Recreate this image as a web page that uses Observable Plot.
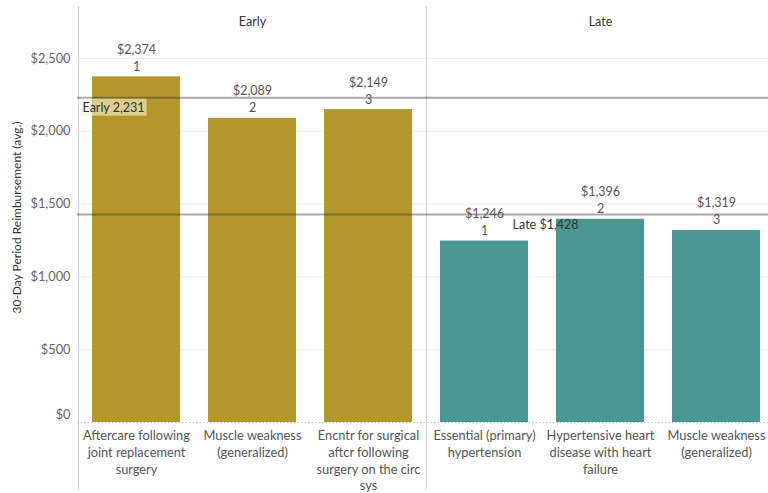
<!DOCTYPE html>
<html>
<head>
<meta charset="utf-8">
<script src="https://cdn.jsdelivr.net/npm/d3@7"></script>
<script src="https://cdn.jsdelivr.net/npm/@observablehq/plot@0.6"></script>
<style>
  html, body { margin: 0; padding: 0; background: #fff; }
  #chart svg { display: block; font-family: Lato, "Open Sans", sans-serif; }
</style>
</head>
<body>
<div id="chart"></div>
<script>
// ---- data ----
const phases = ["Early", "Early", "Early", "Late", "Late", "Late"];
const diagnoses = [
  "Aftercare following joint replacement surgery",
  "Muscle weakness (generalized)",
  "Encntr for surgical aftcr following surgery on the circ sys",
  "Essential (primary) hypertension",
  "Hypertensive heart disease with heart failure",
  "Muscle weakness (generalized)"
];
const tickLabels = [
  "Aftercare following\njoint replacement\nsurgery",
  "Muscle weakness\n(generalized)",
  "Encntr for surgical\naftcr following\nsurgery on the circ\nsys",
  "Essential (primary)\nhypertension",
  "Hypertensive heart\ndisease with heart\nfailure",
  "Muscle weakness\n(generalized)"
];
const reimbursement = [2374, 2089, 2149, 1246, 1396, 1319];
const ranks = [1, 2, 3, 1, 2, 3];
const refPhases = ["Early", "Late"];
const refValues = [2231, 1428];
const refLabels = ["Early 2,231", "Late $1,428"];
const yTicks = [0, 500, 1000, 1500, 2000, 2500];
const yTitle = "30-Day Period Reimbursement (avg.)";

// ---- build ----
const keys = phases.map((p, i) => p + "|" + diagnoses[i]);
const data = keys.map((k, i) => ({
  key: k, phase: phases[i], diagnosis: diagnoses[i], tick: tickLabels[i],
  value: reimbursement[i], rank: ranks[i]
}));
const fmt = d3.format("$,");
const X_RANGE = [77, 775];
const PI = 0.244, PO = 0.12;
const xs = d3.scaleBand(keys, X_RANGE).paddingInner(PI).paddingOuter(PO);
const leftDx = X_RANGE[0] - (xs(keys[0]) + xs.bandwidth() / 2);
const divDx = -xs.step() / 2;

const headers = refPhases.map(p => {
  const idx = phases.map((q, i) => q === p ? i : -1).filter(i => i >= 0);
  return { phase: p, key: keys[idx[Math.floor(idx.length / 2)]] };
});
const refs = refPhases.map((p, i) => ({ phase: p, value: refValues[i], label: refLabels[i] }));

const gold = "#B4972C", teal = "#4A9792";

const plot = Plot.plot({
  width: 768,
  height: 493,
  marginLeft: 77,
  marginRight: 0,
  marginTop: 6,
  marginBottom: 3,
  style: { fontSize: "12.5px", fontFamily: "Lato, 'Open Sans', sans-serif", background: "#fff" },
  x: { type: "band", domain: keys, range: X_RANGE, paddingInner: PI, paddingOuter: PO, axis: null },
  y: { domain: [0, 2500], range: [422, 58], axis: null },
  color: { domain: ["Early", "Late"], range: [gold, teal] },
  marks: [
    Plot.gridY(yTicks.slice(1), { stroke: "#efefef", strokeOpacity: 1 }),
    Plot.ruleX([keys[0]], { dx: leftDx, stroke: "#d0d0d0", strokeWidth: 1.2 }),
    Plot.ruleX([keys[3]], { dx: divDx, stroke: "#d0d0d0", strokeWidth: 1.2 }),
    Plot.barY(data, { x: "key", y: "value", fill: "phase" }),
    Plot.ruleY([0], { stroke: "#bbb", strokeDasharray: "1.5,2" }),
    Plot.ruleY(refs, { y: "value", stroke: "#333", strokeOpacity: 0.42, strokeWidth: 2 }),
    Plot.text(refs.slice(0, 1), { y: "value", text: "label", frameAnchor: "left", textAnchor: "start", dx: 5, dy: 10, fill: "#333", className: "ref-early" }),
    Plot.text(refs.slice(1), { x: () => keys[4], y: "value", text: "label", textAnchor: "end", dx: -22, dy: 10, fill: "#333" }),
    Plot.text(data, { x: "key", y: "value", text: d => `${fmt(d.value)}\n${d.rank}`, lineAnchor: "bottom", dy: -6, lineHeight: 1.36, fill: "#555" }),
    Plot.text(headers, { x: "key", text: "phase", frameAnchor: "top", dy: 11, fill: "#333" }),
    Plot.text(data, { x: "key", y: () => 0, text: "tick", lineAnchor: "top", dy: 6, lineHeight: 1.3, fill: "#555", fontSize: 12.8 }),
    Plot.axisY(yTicks.slice(1), { tickSize: 0, tickPadding: 7, tickFormat: fmt, fill: "#666", label: null, fontSize: 12.8 }),
    Plot.axisY(yTicks.slice(0, 1), { tickSize: 0, tickPadding: 7, tickFormat: fmt, fill: "#666", label: null, fontSize: 12.8, dy: -8 }),
    Plot.text([yTitle], { frameAnchor: "left", textAnchor: "middle", rotate: -90, dx: -60, dy: -31, fill: "#333", fontSize: 12 })
  ]
});
document.getElementById("chart").appendChild(plot);

// background box behind the "Early" reference label, sized from the rendered text
const g = plot.querySelector(".ref-early");
if (g) {
  const t = g.querySelector("text");
  if (t) {
    const bb = t.getBBox();
    const r = document.createElementNS("http://www.w3.org/2000/svg", "rect");
    r.setAttribute("x", bb.x - 2);
    r.setAttribute("y", bb.y - 1);
    r.setAttribute("width", bb.width + 4);
    r.setAttribute("height", bb.height + 2);
    r.setAttribute("fill", "rgba(250,243,205,0.6)");
    const tr = t.getAttribute("transform");
    if (tr) r.setAttribute("transform", tr);
    t.parentNode.insertBefore(r, t);
  }
}
</script>
</body>
</html>
